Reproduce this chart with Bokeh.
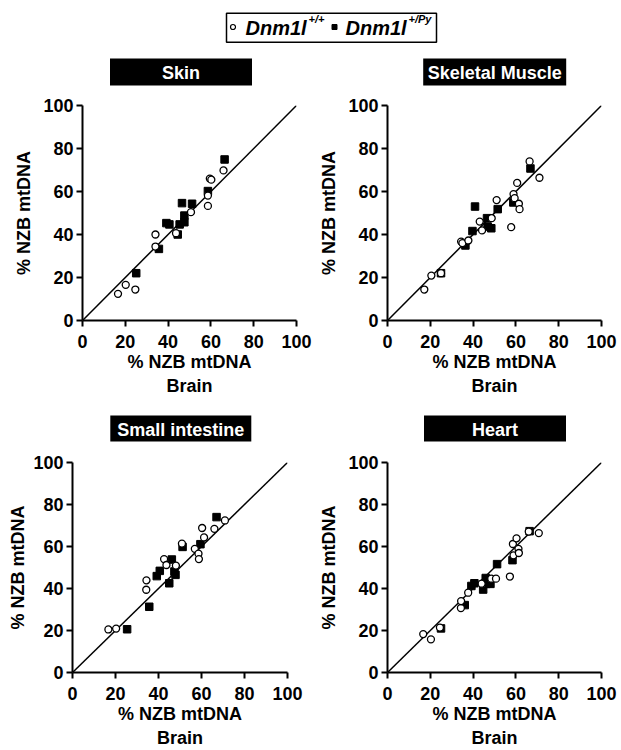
from bokeh.plotting import figure
from bokeh.layouts import column, row
from bokeh.models import Range1d, FixedTicker
from bokeh.embed import file_html
from bokeh.resources import INLINE
from bokeh.core.properties import value

# ---------------- data ----------------
ticks = [0, 20, 40, 60, 80, 100]
diag = [0, 100]
titles = ["Skin", "Skeletal Muscle", "Small intestine", "Heart"]
legend_names = ["Dnm1l", "Dnm1l"]
legend_sups = ["+/+", "+/Py"]

skin_wt_x = [16.6, 20.2, 24.7, 34.1, 34.1, 43.7, 50.7, 58.6, 58.6, 59.5, 60.2, 65.9]
skin_wt_y = [12.4, 16.6, 14.4, 40.0, 34.4, 40.6, 50.4, 58.1, 53.3, 66.0, 65.5, 69.8]
skin_py_x = [25.1, 35.7, 39.2, 40.6, 44.5, 45.4, 46.5, 47.6, 47.6, 51.2, 58.6, 66.4]
skin_py_y = [22.0, 33.3, 45.3, 44.7, 40.0, 44.7, 54.6, 45.7, 48.8, 54.3, 60.2, 74.9]

muscle_wt_x = [17.2, 20.5, 25.0, 34.4, 35.0, 37.8, 43.1, 44.2, 48.7, 51.0, 57.8, 58.9, 59.4, 60.6, 61.4, 61.7, 66.4, 71.0]
muscle_wt_y = [14.4, 20.9, 22.0, 36.7, 36.0, 37.2, 46.0, 41.9, 47.6, 56.0, 43.4, 58.8, 56.9, 64.0, 54.3, 51.8, 74.0, 66.4]
muscle_py_x = [25.0, 36.4, 39.7, 40.9, 46.5, 46.8, 48.5, 51.5, 58.8, 66.8]
muscle_py_y = [22.0, 34.9, 41.6, 53.0, 47.6, 43.7, 42.9, 51.8, 54.9, 70.7]

si_wt_x = [16.7, 20.3, 34.4, 34.3, 42.6, 43.7, 48.1, 50.9, 56.9, 58.6, 58.8, 60.3, 61.2, 66.0, 70.9]
si_wt_y = [20.5, 20.9, 43.9, 39.4, 54.0, 51.2, 50.9, 61.4, 58.9, 56.6, 54.0, 68.8, 64.3, 68.4, 72.4]
si_py_x = [25.4, 35.7, 39.2, 40.6, 45.0, 46.2, 47.4, 47.9, 51.2, 59.5, 67.0]
si_py_y = [20.6, 31.3, 45.9, 48.4, 42.5, 53.8, 48.1, 46.5, 59.8, 61.1, 74.0]

heart_wt_x = [16.7, 20.3, 24.5, 34.3, 34.4, 37.7, 44.0, 48.5, 50.7, 57.2, 58.6, 58.9, 60.3, 61.2, 61.4, 66.0, 70.7]
heart_wt_y = [18.3, 15.8, 21.4, 30.7, 34.0, 38.0, 42.3, 44.7, 44.7, 45.7, 61.2, 55.8, 63.9, 58.9, 56.9, 67.1, 66.4]
heart_py_x = [25.0, 36.1, 39.2, 40.6, 44.7, 45.9, 46.2, 48.1, 51.2, 58.4, 66.4]
heart_py_y = [21.0, 32.1, 41.2, 42.5, 39.5, 45.0, 42.2, 42.2, 51.6, 53.5, 67.3]

FONT = "Liberation Sans"
TOTAL_W = 621


def header(height, box_y, box_h, box_x, box_w, names, with_legend=False):
    p = figure(width=TOTAL_W, height=height, x_range=Range1d(0, TOTAL_W),
               y_range=Range1d(height, 0), toolbar_location=None,
               output_backend="svg", min_border=0,
               x_axis_location=None, y_axis_location=None)
    p.grid.visible = False
    p.outline_line_color = None
    p.rect(x=box_x, y=[box_y] * len(box_x), width=box_w, height=box_h,
           fill_color="black", line_color=None)
    p.text(x=box_x, y=[box_y + 1] * len(box_x), text=names, text_align="center",
           text_baseline="middle", text_color="white", text_font=value(FONT),
           text_font_style="bold", text_font_size="18px")
    if with_legend:
        p.rect(x=[331], y=[27.2], width=[210], height=[29], fill_color=None,
               line_color="black", line_width=1.5)
        p.scatter(x=[232.5], y=[26.5], marker="circle", size=5, fill_color="white",
                  line_color="black", line_width=1.2)
        p.scatter(x=[334], y=[26.5], marker="square", size=5, fill_color="black",
                  line_color="black")
        p.text(x=[245, 345], y=[27.5, 27.5], text=legend_names, text_align="left",
               text_baseline="middle", text_color="black", text_font=value(FONT),
               text_font_style="bold italic", text_font_size="20px")
        p.text(x=[308, 408], y=[18.5, 18.5], text=legend_sups, text_align="left",
               text_baseline="middle", text_color="black", text_font=value(FONT),
               text_font_style="bold italic", text_font_size="11px")
    return p


def panel(wx, wy, px, py, width, height, left, right, top, bottom, ylab_standoff):
    p = figure(width=width, height=height, x_range=Range1d(0, 100), y_range=Range1d(0, 100),
               toolbar_location=None, output_backend="svg",
               min_border_left=left, min_border_right=right,
               min_border_top=top, min_border_bottom=bottom)
    p.grid.visible = False
    p.outline_line_color = None
    for ax in (p.xaxis[0], p.yaxis[0]):
        ax.ticker = FixedTicker(ticks=ticks)
        ax.axis_line_width = 2
        ax.axis_line_color = "black"
        ax.major_tick_line_width = 2
        ax.major_tick_line_color = "black"
        ax.major_tick_out = 6
        ax.major_tick_in = 0
        ax.minor_tick_line_color = None
        ax.major_label_text_font = FONT
        ax.major_label_text_font_style = "bold"
        ax.major_label_text_font_size = "18px"
        ax.major_label_text_color = "black"
        ax.axis_label_text_font = FONT
        ax.axis_label_text_font_style = "bold"
        ax.axis_label_text_font_size = "18px"
        ax.axis_label_text_color = "black"
    p.xaxis.major_label_standoff = 8
    p.yaxis.major_label_standoff = 3
    p.xaxis.axis_label = "% NZB mtDNA\nBrain"
    p.xaxis.axis_label_standoff = 1
    p.xaxis.axis_label_text_line_height = 1.2
    p.yaxis.axis_label = "% NZB mtDNA"
    p.yaxis.axis_label_standoff = ylab_standoff

    p.line(diag, diag, line_width=1.5, line_color="black")
    p.scatter(px, py, marker="square", size=7.5, fill_color="black", line_color="black")
    p.scatter(wx, wy, marker="circle", size=7, fill_color="white",
              line_color="black", line_width=1.3)
    return p


h1 = header(90, 71.5, 27, [180.5, 494.2], [142, 143], titles[0:2], with_legend=True)
p1 = panel(skin_wt_x, skin_wt_y, skin_py_x, skin_py_y, 313, 310, 82, 17, 15, 80, 6)
p2 = panel(muscle_wt_x, muscle_wt_y, muscle_py_x, muscle_py_y, 308, 310, 74, 20, 15, 80, 6)
h2 = header(47, 28, 26, [180.3, 494.5], [141, 142], titles[2:4])
p3 = panel(si_wt_x, si_wt_y, si_py_x, si_py_y, 313, 303, 72, 26, 15, 74, 2)
p4 = panel(heart_wt_x, heart_wt_y, heart_py_x, heart_py_y, 308, 303, 74, 20, 15, 74, 6)

layout = column(h1, row(p1, p2), h2, row(p3, p4))

open("out.html", "w").write(file_html(layout, INLINE))
